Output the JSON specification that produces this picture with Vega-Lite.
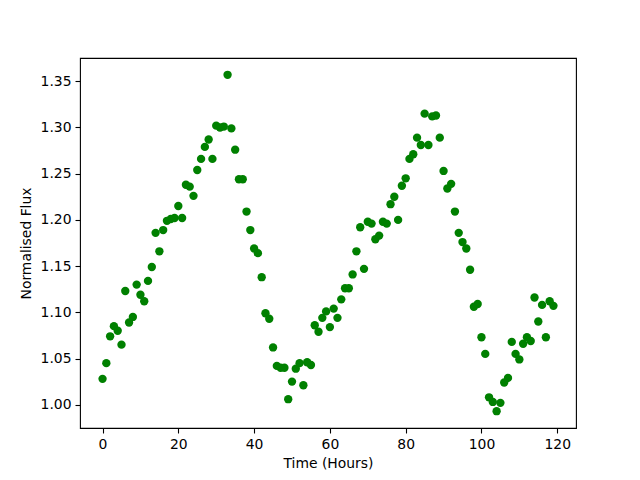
{
  "$schema": "https://vega.github.io/schema/vega-lite/v6.json",
  "width": 496,
  "height": 370,
  "autosize": {"type": "none"},
  "padding": {"left": 80, "top": 58, "right": 64, "bottom": 52},
  "background": "white",
  "config": {
    "view": {"stroke": "black", "strokeWidth": 1.1},
    "font": "DejaVu Sans",
    "axis": {
      "grid": false,
      "domain": false,
      "tickColor": "black",
      "tickSize": 5,
      "tickWidth": 1.1,
      "labelColor": "black",
      "labelFont": "DejaVu Sans",
      "labelFontSize": 13.9,
      "titleFont": "DejaVu Sans",
      "titleFontSize": 13.9,
      "titleFontWeight": "normal",
      "titleColor": "black",
      "labelPadding": 4
    }
  },
  "data": {
    "values": [
      {"t":0,"f":1.028},{"t":1,"f":1.045},{"t":2,"f":1.074},{"t":3,"f":1.085},{"t":4,"f":1.080},
      {"t":5,"f":1.065},{"t":6,"f":1.123},{"t":7,"f":1.089},{"t":8,"f":1.095},{"t":9,"f":1.130},
      {"t":10,"f":1.119},{"t":11,"f":1.112},{"t":12,"f":1.134},{"t":13,"f":1.149},{"t":14,"f":1.186},
      {"t":15,"f":1.166},{"t":16,"f":1.189},{"t":17,"f":1.199},{"t":18,"f":1.201},{"t":19,"f":1.202},
      {"t":20,"f":1.215},{"t":21,"f":1.202},{"t":22,"f":1.238},{"t":23,"f":1.236},{"t":24,"f":1.226},
      {"t":25,"f":1.254},{"t":26,"f":1.266},{"t":27,"f":1.279},{"t":28,"f":1.287},{"t":29,"f":1.266},
      {"t":30,"f":1.302},{"t":31,"f":1.300},{"t":32,"f":1.301},{"t":33,"f":1.357},{"t":34,"f":1.299},
      {"t":35,"f":1.276},{"t":36,"f":1.244},{"t":37,"f":1.244},{"t":38,"f":1.209},{"t":39,"f":1.189},
      {"t":40,"f":1.169},{"t":41,"f":1.164},{"t":42,"f":1.138},{"t":43,"f":1.099},{"t":44,"f":1.093},
      {"t":45,"f":1.062},{"t":46,"f":1.042},{"t":47,"f":1.040},{"t":48,"f":1.040},{"t":49,"f":1.006},
      {"t":50,"f":1.025},{"t":51,"f":1.039},{"t":52,"f":1.045},{"t":53,"f":1.021},{"t":54,"f":1.046},
      {"t":55,"f":1.043},{"t":56,"f":1.086},{"t":57,"f":1.079},{"t":58,"f":1.094},{"t":59,"f":1.101},
      {"t":60,"f":1.084},{"t":61,"f":1.104},{"t":62,"f":1.094},{"t":63,"f":1.114},{"t":64,"f":1.126},
      {"t":65,"f":1.126},{"t":66,"f":1.141},{"t":67,"f":1.166},{"t":68,"f":1.192},{"t":69,"f":1.147},
      {"t":70,"f":1.198},{"t":71,"f":1.196},{"t":72,"f":1.179},{"t":73,"f":1.183},{"t":74,"f":1.198},
      {"t":75,"f":1.196},{"t":76,"f":1.217},{"t":77,"f":1.225},{"t":78,"f":1.200},{"t":79,"f":1.237},
      {"t":80,"f":1.245},{"t":81,"f":1.266},{"t":82,"f":1.271},{"t":83,"f":1.289},{"t":84,"f":1.281},
      {"t":85,"f":1.315},{"t":86,"f":1.281},{"t":87,"f":1.312},{"t":88,"f":1.313},{"t":89,"f":1.289},
      {"t":90,"f":1.253},{"t":91,"f":1.234},{"t":92,"f":1.239},{"t":93,"f":1.209},{"t":94,"f":1.186},
      {"t":95,"f":1.176},{"t":96,"f":1.169},{"t":97,"f":1.146},{"t":98,"f":1.106},{"t":99,"f":1.109},
      {"t":100,"f":1.073},{"t":101,"f":1.055},{"t":102,"f":1.008},{"t":103,"f":1.003},{"t":104,"f":0.993},
      {"t":105,"f":1.002},{"t":106,"f":1.024},{"t":107,"f":1.029},{"t":108,"f":1.068},{"t":109,"f":1.055},
      {"t":110,"f":1.049},{"t":111,"f":1.066},{"t":112,"f":1.073},{"t":113,"f":1.069},{"t":114,"f":1.116},
      {"t":115,"f":1.090},{"t":116,"f":1.108},{"t":117,"f":1.073},{"t":118,"f":1.112},{"t":119,"f":1.107}
    ]
  },
  "mark": {"type": "circle", "color": "#008000", "opacity": 1, "size": 70},
  "encoding": {
    "x": {
      "field": "t", "type": "quantitative",
      "scale": {"domain": [-5.95, 124.95], "nice": false, "zero": false},
      "axis": {"values": [0, 20, 40, 60, 80, 100, 120], "title": "Time (Hours)", "titlePadding": 6}
    },
    "y": {
      "field": "f", "type": "quantitative",
      "scale": {"domain": [0.9748, 1.3752], "nice": false, "zero": false},
      "axis": {"values": [1.0, 1.05, 1.1, 1.15, 1.2, 1.25, 1.3, 1.35], "format": ".2f", "title": "Normalised Flux", "titlePadding": 7}
    }
  }
}
